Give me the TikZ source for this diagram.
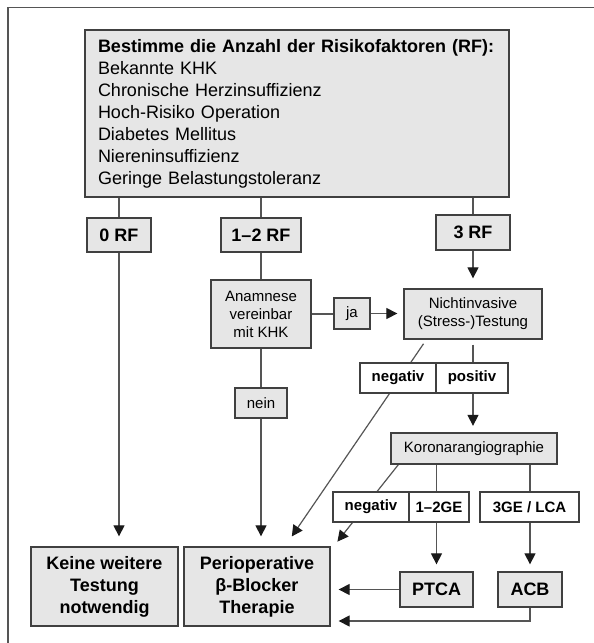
\documentclass[tikz,border=0pt]{standalone}
\usepackage{fontspec}
\setmainfont{Liberation Sans}
\usetikzlibrary{arrows.meta,calc}
\definecolor{boxfill}{HTML}{E6E6E6}
\definecolor{linegray}{HTML}{555555}
\definecolor{bordergray}{HTML}{404040}
\definecolor{tipcol}{HTML}{1A1A1A}
\pgfdeclarelayer{bg}
\pgfsetlayers{bg,main}
\begin{document}
\begin{tikzpicture}[x=1pt,y=-1pt,
 box/.style={draw=bordergray,line width=1.3pt,fill=boxfill,inner sep=0pt,align=center},
 wbox/.style={box,fill=white},
 conn/.style={draw=linegray,line width=1.2pt},
 arr/.style={conn,-{Triangle[length=11pt,width=11pt,color=tipcol]}},
 ftext/.style={font=\fontsize{15}{18}\selectfont},
 fbold/.style={font=\fontsize{15}{18}\selectfont\bfseries},
 fbig/.style={font=\fontsize{18}{22}\selectfont\bfseries},
]
\useasboundingbox (0,0) rectangle (594,643);
\draw[draw=linegray,line width=1.5pt] (594,7.5) -- (8,7.5) -- (8,643);

\node[box,align=left,text width=398pt,inner xsep=13pt,minimum height=167pt,
  font=\fontsize{18}{22}\selectfont] (top) at (297,113.5)
  {\textbf{Bestimme die Anzahl der Risikofaktoren (RF):}\\
   Bekannte KHK\\
   Chronische Herzinsuffizienz\\
   Hoch-Risiko Operation\\
   Diabetes Mellitus\\
   Niereninsuffizienz\\
   Geringe Belastungstoleranz};

\node[box,fbig,minimum width=64pt,minimum height=34pt] (rf0) at (119,235) {0 RF};
\node[box,fbig,minimum width=80pt,minimum height=34pt] (rf12) at (261,235) {1--2 RF};
\node[box,fbig,minimum width=74pt,minimum height=35pt] (rf3) at (473,232.5) {3 RF};

\node[box,ftext,minimum width=100pt,minimum height=68pt] (anam) at (261,314) {Anamnese\\vereinbar\\mit KHK};
\node[box,ftext,minimum width=36pt,minimum height=31pt] (ja) at (352,313.5) {ja};
\node[box,ftext,minimum width=138pt,minimum height=50pt] (nicht) at (473,314) {Nichtinvasive\\(Stress-)Testung};
\node[box,ftext,minimum width=52pt,minimum height=30pt] (nein) at (261,403) {nein};

\node[wbox,fbold,minimum width=76pt,minimum height=30pt] (neg1) at (398,378) {negativ};
\node[wbox,fbold,minimum width=72pt,minimum height=30pt] (pos) at (472,378) {positiv};

\node[box,ftext,minimum width=166pt,minimum height=31pt] (koro) at (474,448.5) {Koronarangiographie};

\node[wbox,fbold,minimum width=76pt,minimum height=30pt] (neg2) at (371,507) {negativ};
\node[wbox,fbold,minimum width=60pt,minimum height=30pt] (ge12) at (439,507) {1--2GE};
\node[wbox,fbold,minimum width=99pt,minimum height=30pt] (ge3) at (529.5,507) {3GE / LCA};

\node[box,fbig,minimum width=147pt,minimum height=79pt] (keine) at (104.5,586.5) {Keine weitere\\Testung\\notwendig};
\node[box,fbig,minimum width=146pt,minimum height=79pt] (perio) at (257,586.5) {Perioperative\\β-Blocker\\Therapie};
\node[box,fbig,minimum width=73pt,minimum height=35pt] (ptca) at (436.5,589.5) {PTCA};
\node[box,fbig,minimum width=64pt,minimum height=35pt] (acb) at (530,589.5) {ACB};

\begin{pgfonlayer}{bg}
\draw[conn] (top.south -| rf0) -- (rf0.north);
\draw[conn] (top.south -| rf12) -- (rf12.north);
\draw[conn] (top.south -| rf3) -- (rf3.north);
\draw[arr,shorten >=10pt] (rf0.south) -- (rf0.south |- keine.north);
\draw[conn] (rf12.south) -- (anam.north);
\draw[conn] (anam.south) -- (nein.north);
\draw[arr,shorten >=10pt] (nein.south) -- (nein.south |- perio.north);
\draw[conn] (anam.east) -- (anam.east -| ja.west);
\draw[arr,shorten >=6pt] (ja.east) -- (ja.east -| nicht.west);
\draw[arr,shorten >=10pt] (rf3.south) -- (nicht.north);
\draw[conn,shorten <=5pt] (nicht.south) -- (nicht.south |- pos.north);
\draw[arr,shorten >=6.5pt] (nicht.south |- pos.south) -- (nicht.south |- koro.north);
\draw[arr,shorten <=5pt,shorten >=12pt] ($(nicht.south west)+(23,0)$) -- ($(perio.north)+(28,0)$);
\draw[conn] (koro.south -| ptca) -- (ge12.north -| ptca);
\draw[arr,shorten >=7pt] (ge12.south -| ptca) -- (ptca.north);
\draw[conn] (koro.south -| acb) -- (ge3.north -| acb);
\draw[arr,shorten >=7pt] (ge3.south -| acb) -- (acb.north);
\draw[arr,shorten >=6pt] ($(koro.south west)+(8,0)$) -- ($(perio.north east)+(3,0)$);
\draw[arr,shorten >=8pt] (ptca.west) -- (ptca.west -| perio.east);
\draw[arr,shorten >=8pt] (acb.south) |- ($(perio.east)+(0,34.5)$);
\end{pgfonlayer}
\end{tikzpicture}
\end{document}
